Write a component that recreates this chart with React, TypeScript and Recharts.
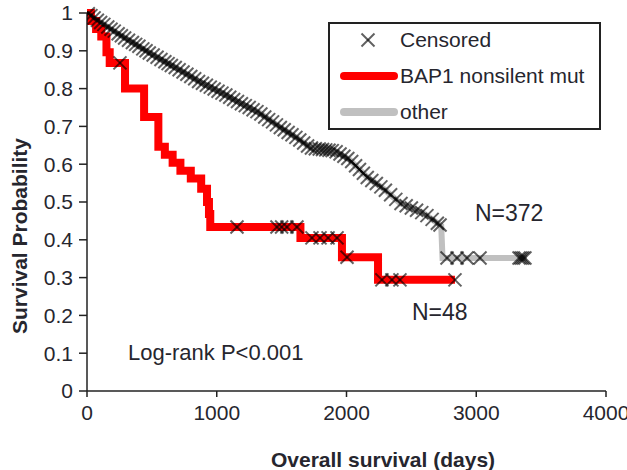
import { ComposedChart, Line, Scatter, XAxis, YAxis } from 'recharts';

const xTicks = [0, 1000, 2000, 3000, 4000];
const yTicks = [0, 0.1, 0.2, 0.3, 0.4, 0.5, 0.6, 0.7, 0.8, 0.9, 1];

// Kaplan-Meier steps, [days, survival]
const bap1Steps = [
  [0, 1], [30, 0.979], [70, 0.958], [110, 0.938], [150, 0.896], [175, 0.868],
  [293, 0.8], [440, 0.725], [550, 0.646], [600, 0.625], [660, 0.604], [720, 0.583],
  [800, 0.562], [880, 0.535], [925, 0.5], [940, 0.468], [950, 0.434], [1645, 0.405],
  [1965, 0.354], [2243, 0.294], [2836, 0.294],
];

const bap1Censored = [
  [254, 0.868], [1156, 0.434], [1464, 0.434], [1500, 0.434], [1541, 0.434], [1618, 0.434],
  [1734, 0.405], [1796, 0.405], [1858, 0.405], [1927, 0.405], [2004, 0.354],
  [2273, 0.294], [2350, 0.294], [2412, 0.294], [2836, 0.294],
];

const otherSteps = [
  [0, 1], [100, 0.976], [254, 0.942], [408, 0.91], [563, 0.878], [717, 0.849],
  [871, 0.817], [1025, 0.791], [1179, 0.762], [1333, 0.735], [1487, 0.698],
  [1642, 0.664], [1719, 0.643], [1911, 0.635], [2027, 0.611], [2158, 0.566],
  [2297, 0.532], [2412, 0.497], [2590, 0.471], [2730, 0.437], [2740, 0.352],
  [3391, 0.352],
];

const otherCensored = [
  [10, 0.998], [30, 0.993], [55, 0.987], [80, 0.981], [105, 0.975], [130, 0.97],
  [160, 0.963], [185, 0.957], [210, 0.952], [240, 0.945], [265, 0.94], [290, 0.934],
  [320, 0.928], [350, 0.922], [375, 0.917], [400, 0.912], [430, 0.905], [455, 0.9],
  [480, 0.894], [510, 0.889], [540, 0.883], [570, 0.877], [600, 0.871], [625, 0.866],
  [650, 0.861], [680, 0.856], [710, 0.85], [740, 0.844], [770, 0.838], [800, 0.832],
  [830, 0.826], [860, 0.819], [890, 0.814], [920, 0.809], [950, 0.804], [980, 0.799],
  [1010, 0.793], [1040, 0.788], [1070, 0.783], [1100, 0.777], [1130, 0.771],
  [1160, 0.766], [1190, 0.76], [1220, 0.755], [1250, 0.75], [1280, 0.744],
  [1310, 0.739], [1340, 0.733], [1370, 0.725], [1400, 0.718], [1430, 0.712],
  [1460, 0.704], [1490, 0.697], [1520, 0.691], [1550, 0.684], [1580, 0.678],
  [1610, 0.671], [1640, 0.664], [1670, 0.656], [1700, 0.648], [1730, 0.643],
  [1760, 0.641], [1790, 0.64], [1815, 0.639], [1840, 0.638], [1865, 0.637],
  [1890, 0.636], [1920, 0.633], [1950, 0.627], [1980, 0.621], [2010, 0.615],
  [2040, 0.607], [2070, 0.596], [2100, 0.586], [2130, 0.576], [2160, 0.565],
  [2195, 0.557], [2230, 0.549], [2265, 0.54], [2300, 0.531], [2340, 0.519],
  [2380, 0.507], [2420, 0.496], [2460, 0.49], [2500, 0.484], [2540, 0.478],
  [2580, 0.472], [2620, 0.464], [2660, 0.454], [2700, 0.444], [2721, 0.439],
  [2775, 0.352], [2852, 0.352], [2929, 0.352], [3029, 0.352], [3330, 0.352],
  [3345, 0.352], [3360, 0.352], [3375, 0.352],
];

const toPoints = (rows: number[][]) => rows.map(([t, s]) => ({ t, s }));

const FONT = '"Liberation Sans", Arial, sans-serif';
const TEXT = '#26262e';

const Cross = (props: any) => {
  const { cx, cy } = props;
  const r = 6.5;
  return (
    <g stroke="#000" strokeOpacity={0.62} strokeWidth={2}>
      <line x1={cx - r} y1={cy - r} x2={cx + r} y2={cy + r} />
      <line x1={cx - r} y1={cy + r} x2={cx + r} y2={cy - r} />
    </g>
  );
};

const LegendBox = () => (
  <svg
    width={273}
    height={108}
    style={{ position: 'absolute', left: 328, top: 22, background: '#fff' }}
  >
    <rect x={1} y={1} width={271} height={106} fill="#fff" stroke="#222" strokeWidth={2} />
    <Cross cx={40} cy={18} />
    <line x1={16} y1={54} x2={66} y2={54} stroke="#ff0000" strokeWidth={8} strokeLinecap="round" />
    <line x1={16} y1={90} x2={66} y2={90} stroke="#c0c0c0" strokeWidth={8} strokeLinecap="round" />
    <g fontFamily={FONT} fontSize={21} fill={TEXT}>
      <text x={72} y={25}>Censored</text>
      <text x={72} y={61}>BAP1 nonsilent mut</text>
      <text x={72} y={97}>other</text>
    </g>
  </svg>
);

export default function App() {
  const tickStyle = { fontFamily: FONT, fontSize: 21, fill: TEXT };
  return (
    <div style={{ position: 'absolute', left: 0, top: 0, width: 627, height: 470, background: '#fff' }}>
      <ComposedChart
        width={627}
        height={470}
        margin={{ top: 13, right: 21, left: 0, bottom: 0 }}
      >
        <XAxis
          xAxisId="top"
          orientation="top"
          dataKey="t"
          type="number"
          domain={[0, 4000]}
          height={0}
          tick={false}
          tickLine={false}
          axisLine={{ stroke: '#a0a0a0', strokeWidth: 1.5 }}
        />
        <YAxis
          yAxisId="right"
          orientation="right"
          type="number"
          domain={[0, 1]}
          width={0}
          tick={false}
          tickLine={false}
          axisLine={{ stroke: '#a0a0a0', strokeWidth: 1.5 }}
        />
        <XAxis
          dataKey="t"
          type="number"
          domain={[0, 4000]}
          ticks={xTicks}
          height={79}
          tickSize={6}
          tickMargin={8}
          tick={tickStyle}
          axisLine={{ stroke: '#222', strokeWidth: 1.5 }}
          tickLine={{ stroke: '#222', strokeWidth: 1.5 }}
          allowDataOverflow
        />
        <YAxis
          type="number"
          domain={[0, 1]}
          ticks={yTicks}
          width={87}
          tickSize={8}
          tickMargin={6}
          tick={tickStyle}
          axisLine={{ stroke: '#222', strokeWidth: 1.5 }}
          tickLine={{ stroke: '#222', strokeWidth: 1.5 }}
        />
        <Line
          data={toPoints(otherSteps)}
          dataKey="s"
          type="linear"
          stroke="#c0c0c0"
          strokeWidth={6}
          dot={false}
          activeDot={false}
          isAnimationActive={false}
        />
        <Line
          data={toPoints(bap1Steps)}
          dataKey="s"
          type="stepAfter"
          stroke="#ff0000"
          strokeWidth={8}
          dot={false}
          activeDot={false}
          isAnimationActive={false}
        />
        <Scatter data={toPoints(otherCensored)} dataKey="s" shape={Cross} isAnimationActive={false} />
        <Scatter data={toPoints(bap1Censored)} dataKey="s" shape={Cross} isAnimationActive={false} />
      </ComposedChart>
      <svg
        width={627}
        height={470}
        style={{ position: 'absolute', left: 0, top: 0, pointerEvents: 'none' }}
      >
        <g fontFamily={FONT} fill={TEXT}>
          <text x={128} y={360} fontSize={22}>Log-rank P&lt;0.001</text>
          <text x={475} y={221} fontSize={23}>N=372</text>
          <text x={412} y={320} fontSize={23}>N=48</text>
          <text x={383} y={467} fontSize={21} fontWeight="bold" textAnchor="middle">
            Overall survival (days)
          </text>
          <text
            transform="translate(27, 236) rotate(-90)"
            fontSize={21}
            fontWeight="bold"
            textAnchor="middle"
          >
            Survival Probability
          </text>
        </g>
      </svg>
      <LegendBox />
    </div>
  );
}
